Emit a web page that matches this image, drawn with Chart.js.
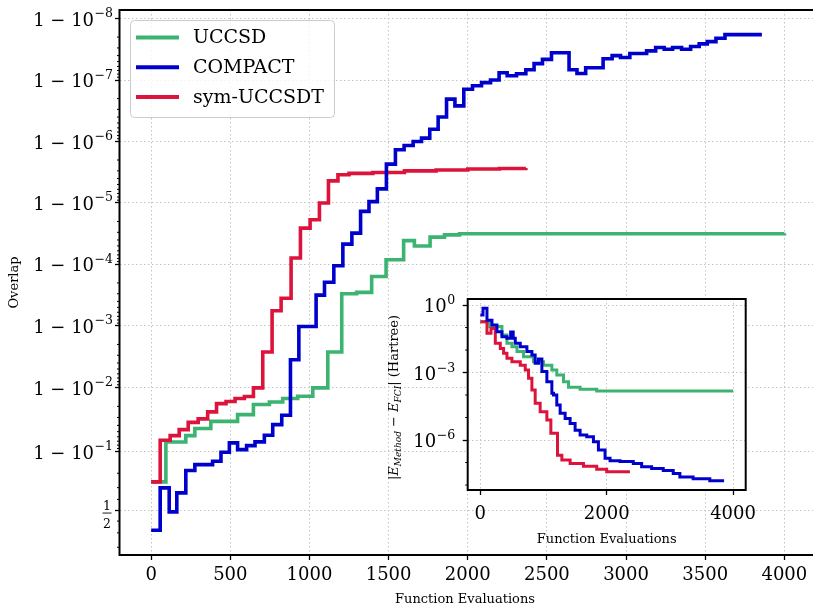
<!DOCTYPE html>
<html>
<head>
<meta charset="utf-8">
<script src="https://cdn.jsdelivr.net/npm/chart.js@4.4.1/dist/chart.umd.min.js"></script>
<style>
  * { margin: 0; padding: 0; box-sizing: border-box; }
  html, body { background: #fff; overflow: hidden; }
  #wrap { position: relative; width: 813px; height: 606px; overflow: hidden; }
  #main { position: absolute; left: 0; top: 0; }
  #inset { position: absolute; left: 380px; top: 285px; }
</style>
</head>
<body>
<div id="wrap">
  <canvas id="main" width="816" height="606" style="width:816px;height:606px"></canvas>
  <canvas id="inset" width="400" height="265" style="width:400px;height:265px"></canvas>
</div>
<script>
// ---- main panel: overlap with FCI state, stored as infidelity (1 - overlap)
const uccsdEvals = [0, 93, 219, 276, 377, 546, 646, 747, 831, 926, 1021, 1116, 1204, 1298, 1393, 1484, 1595, 1663, 1762, 1853, 1948, 4000];
const uccsdInfid = [0.257, 0.072, 0.0575, 0.0446, 0.0345, 0.027, 0.0187, 0.017, 0.015, 0.0138, 0.0101, 2.66e-3, 3.0e-4, 2.85e-4, 1.57e-4, 8.4e-5, 4.1e-5, 5.0e-5, 3.6e-5, 3.3e-5, 3.16e-5, 3.1e-5];

const compactEvals = [0, 57, 114, 162, 219, 276, 388, 441, 494, 546, 603, 656, 715, 768, 825, 880, 933, 1042, 1095, 1154,
  1211, 1268, 1323, 1376, 1429, 1486, 1543, 1598, 1655, 1708, 1760, 1813, 1866, 1919, 1975, 2030, 2087, 2144, 2198, 2249,
  2308, 2367, 2419, 2472, 2529, 2640, 2690, 2745, 2855, 2912, 2965, 3024, 3130, 3187, 3241, 3294, 3351, 3408, 3462, 3513,
  3568, 3625, 3858];
const compactInfid = [0.679, 0.302, 0.515, 0.343, 0.184, 0.153, 0.1376, 0.102, 0.0742, 0.0934, 0.0815, 0.0717, 0.0568, 0.0389, 0.0277, 3.55e-3, 1.02e-3, 3.16e-4, 1.95e-4, 1.05e-4,
  4.68e-5, 3.09e-5, 1.37e-5, 9.5e-6, 5.9e-6, 2.33e-6, 1.36e-6, 1.16e-6, 1.0e-6, 8.8e-7, 6.3e-7, 4.0e-7, 2.04e-7, 2.63e-7, 1.41e-7, 1.24e-7, 1.10e-7, 1.0e-7, 7.6e-8, 8.5e-8,
  7.9e-8, 6.8e-8, 5.4e-8, 4.6e-8, 3.6e-8, 6.8e-8, 7.8e-8, 6.3e-8, 4.5e-8, 4.0e-8, 4.3e-8, 3.7e-8, 3.35e-8, 2.95e-8, 3.16e-8, 2.95e-8, 3.16e-8, 2.85e-8, 2.58e-8, 2.37e-8,
  2.09e-8, 1.82e-8, 1.82e-8];

const symEvals = [0, 57, 120, 177, 234, 297, 357, 413, 473, 530, 589, 646, 705, 764, 821, 884, 943, 1004, 1063, 1120, 1180, 1250, 1400, 1600, 1800, 2000, 2200, 2367];
const symInfid = [0.257, 0.0678, 0.0575, 0.0465, 0.0358, 0.0316, 0.0245, 0.0181, 0.0167, 0.0150, 0.0139, 0.0101, 2.66e-3, 5.66e-4, 3.55e-4, 7.87e-5, 2.57e-5, 1.87e-5, 1.0e-5, 4.37e-6,
  3.47e-6, 3.3e-6, 3.2e-6, 3.0e-6, 2.9e-6, 2.8e-6, 2.75e-6, 2.7e-6];

// ---- inset: |E_method - E_FCI| in Hartree
const uccsdErrEvals = [0, 150, 342, 421, 500, 580, 684, 842, 1000, 1132, 1210, 1316, 1395, 1579, 1842, 4000];
const uccsdErr = [0.18, 0.11, 0.047, 0.020, 0.014, 8.5e-3, 5.0e-3, 3.0e-3, 2.1e-3, 1.3e-3, 7.8e-4, 3.9e-4, 2.2e-4, 1.8e-4, 1.5e-4, 1.5e-4];

const compactErrEvals = [0, 42, 105, 184, 263, 342, 421, 480, 520, 553, 632, 737, 816, 868, 920, 974, 1053, 1132, 1158, 1210,
  1263, 1342, 1421, 1500, 1579, 1684, 1790, 1869, 1974, 2053, 2211, 2421, 2553, 2711, 2895, 3053, 3158, 3368, 3632, 3858];
const compactErr = [0.36, 0.71, 0.21, 0.13, 0.065, 0.039, 0.033, 0.063, 0.033, 0.020, 0.014, 8.5e-3, 6.0e-3, 2.6e-3, 4.0e-3, 1.1e-3, 3.9e-4, 1.2e-4, 1.0e-4, 3.6e-5,
  1.55e-5, 9.1e-6, 5.5e-6, 2.75e-6, 1.66e-6, 1.4e-6, 8.5e-7, 3.6e-7, 1.55e-7, 1.2e-7, 1.1e-7, 9.1e-8, 6.5e-8, 5.5e-8, 4.4e-8, 3.3e-8, 2.3e-8, 1.9e-8, 1.55e-8, 1.55e-8];

const symErrEvals = [0, 105, 169, 237, 316, 368, 421, 500, 632, 711, 763, 816, 868, 947, 1053, 1116, 1221, 1290, 1421, 1632, 1842, 2000, 2368];
const symErr = [0.18, 0.055, 0.091, 0.020, 0.0117, 7.1e-3, 4.3e-3, 3.0e-3, 2.1e-3, 1.3e-3, 5.5e-4, 1.66e-4, 4.3e-5, 1.8e-5, 7.8e-6, 2.0e-6, 2.1e-7, 1.3e-7, 9.1e-8, 6.9e-8, 5.0e-8, 3.9e-8, 3.9e-8];

// ---- ticks
const xTicksMain = [0, 500, 1000, 1500, 2000, 2500, 3000, 3500, 4000];
const xTicksInset = [0, 2000, 4000];
const yMajorExp = [1, 2, 3, 4, 5, 6, 7, 8];          // 1 - 10^-k
const yInsetExp = [0, -3, -6];
const yInsetMinorExp = [-1, -2, -4, -5, -7, -8];

const labels = ['UCCSD', 'COMPACT', 'sym-UCCSDT'];
const colors = ['#3cb371', '#0000cd', '#dc143c'];

const SERIF = '"DejaVu Serif", serif';
const GRID = '#c4c4c4';

// matplotlib-like logit scale: log10(p / (1 - p)) with p = 1 - infidelity
const logit = q => Math.log10((1 - q) / q);
const pts = (xs, ys, f) => xs.map((x, i) => ({ x, y: f ? f(ys[i]) : ys[i] }));

function line(label, color, data, width, order) {
  return { label, data, borderColor: color, backgroundColor: color, borderWidth: width,
    pointRadius: 0, stepped: 'before', tension: 0, fill: false, order };
}

function fixedTicks(values) {
  return scale => { scale.ticks = values.map(v => ({ value: v })); };
}

function drawPow(ctx, right, y, base, exp, big, small, raise) {
  ctx.textAlign = 'left';
  ctx.textBaseline = 'alphabetic';
  ctx.font = small + 'px ' + SERIF;
  const ew = ctx.measureText(exp).width;
  ctx.fillText(exp, right - ew, y - raise);
  ctx.font = big + 'px ' + SERIF;
  const bw = ctx.measureText(base).width;
  ctx.fillText(base, right - ew - bw - 0.5, y);
}

// ---- main chart
const mainDecor = {
  id: 'mainDecor',
  afterDraw(chart) {
    const { ctx, chartArea: a } = chart;
    const ys = chart.scales.y;
    ctx.save();
    ctx.fillStyle = '#000';
    ctx.strokeStyle = '#000';

    // minor ticks on the logit axis
    ctx.lineWidth = 1;
    const minor = [0.6, 0.7, 0.8, 0.4, 0.3, 0.2];
    for (let k = 2; k <= 8; k++) for (let m = 2; m <= 9; m++) minor.push(m * Math.pow(10, -k));
    ctx.beginPath();
    minor.forEach(q => {
      const py = ys.getPixelForValue(logit(q));
      if (py < a.top || py > a.bottom) return;
      ctx.moveTo(a.left, py); ctx.lineTo(a.left - 2.5, py);
    });
    ctx.stroke();

    // y labels
    yMajorExp.forEach(k => {
      const py = ys.getPixelForValue(logit(Math.pow(10, -k)));
      drawPow(ctx, 113, py + 7, '1 \u2212 10', '\u2212' + k, 18, 12.5, 8.5);
    });
    const ph = ys.getPixelForValue(0);
    ctx.font = '12.5px ' + SERIF;
    ctx.textAlign = 'center';
    ctx.textBaseline = 'alphabetic';
    ctx.fillText('1', 107, ph - 0.5);
    ctx.fillText('2', 107, ph + 18);
    ctx.lineWidth = 0.9;
    ctx.beginPath(); ctx.moveTo(102.5, ph + 2.8); ctx.lineTo(111.5, ph + 2.8); ctx.stroke();

    // frame
    ctx.lineWidth = 2;
    ctx.strokeRect(a.left, a.top, a.right - a.left, a.bottom - a.top);

    // axis titles
    ctx.font = '13px ' + SERIF;
    ctx.textAlign = 'center';
    ctx.fillText('Function Evaluations', 465, 602.5);
    ctx.save();
    ctx.translate(18, (a.top + a.bottom) / 2);
    ctx.rotate(-Math.PI / 2);
    ctx.textBaseline = 'alphabetic';
    ctx.fillText('Overlap', 0, 0);
    ctx.restore();

    // legend
    const lx = 130, ly = 20, lw = 204, lh = 97;
    ctx.fillStyle = 'rgba(255,255,255,0.8)';
    ctx.strokeStyle = '#cccccc';
    ctx.lineWidth = 1;
    ctx.beginPath();
    ctx.roundRect(lx + 0.5, ly + 0.5, lw, lh, 4);
    ctx.fill(); ctx.stroke();
    ctx.font = '19px ' + SERIF;
    ctx.textAlign = 'left';
    ctx.textBaseline = 'middle';
    labels.forEach((lab, i) => {
      const yy = 37.5 + i * 29.7;
      ctx.strokeStyle = colors[i];
      ctx.lineWidth = 4;
      ctx.beginPath(); ctx.moveTo(136, yy); ctx.lineTo(179, yy); ctx.stroke();
      ctx.fillStyle = '#000';
      ctx.fillText(lab, 193, yy + 1);
    });
    ctx.restore();
  }
};

const gridOpts = { color: GRID, lineWidth: 1, drawTicks: true, tickLength: 5, tickColor: '#000', tickWidth: 1.3 };
const plainNum = v => String(v);

new Chart(document.getElementById('main'), {
  type: 'line',
  data: {
    datasets: [
      line(labels[0], colors[0], pts(uccsdEvals, uccsdInfid, logit), 3.6, 2),
      line(labels[1], colors[1], pts(compactEvals, compactInfid, logit), 3.6, 0),
      line(labels[2], colors[2], pts(symEvals, symInfid, logit), 3.6, 1)
    ]
  },
  options: {
    responsive: false,
    devicePixelRatio: 1,
    animation: false,
    layout: { padding: { top: 10, right: 0, left: 0, bottom: 0 } },
    plugins: { legend: { display: false }, tooltip: { enabled: false } },
    scales: {
      x: {
        type: 'linear', min: -200, max: 4200,
        afterBuildTicks: fixedTicks(xTicksMain),
        afterFit: s => { s.height = 51; },
        grid: gridOpts,
        border: { display: false, dash: [1.5, 2.5] },
        ticks: { autoSkip: false, maxRotation: 0, padding: 5, color: '#000', callback: plainNum,
                 font: { family: 'DejaVu Serif', size: 18 } }
      },
      y: {
        type: 'linear', min: -0.728, max: 8.14,
        afterBuildTicks: fixedTicks([0].concat(yMajorExp.map(k => logit(Math.pow(10, -k))))),
        afterFit: s => { s.width = 119.5; },
        grid: Object.assign({}, gridOpts, { tickLength: 4.5 }),
        border: { display: false, dash: [1.5, 2.5] },
        ticks: { display: false }
      }
    }
  },
  plugins: [mainDecor]
});

// ---- inset chart
const insetDecor = {
  id: 'insetDecor',
  beforeDraw(chart) {
    const { ctx, chartArea: a } = chart;
    ctx.save();
    ctx.fillStyle = '#fff';
    ctx.fillRect(a.left, a.top, a.right - a.left, a.bottom - a.top);
    ctx.restore();
  },
  afterDraw(chart) {
    const { ctx, chartArea: a } = chart;
    const ys = chart.scales.y;
    ctx.save();
    ctx.fillStyle = '#000';
    ctx.strokeStyle = '#000';
    ctx.lineWidth = 1;
    ctx.beginPath();
    yInsetMinorExp.forEach(e => {
      const py = ys.getPixelForValue(Math.pow(10, e));
      ctx.moveTo(a.left, py); ctx.lineTo(a.left - 2.5, py);
    });
    ctx.stroke();

    yInsetExp.forEach(e => {
      const py = ys.getPixelForValue(Math.pow(10, e));
      drawPow(ctx, a.left - 12.5, py + 7, '10', e === 0 ? '0' : '\u2212' + (-e), 18, 12.5, 8);
    });

    ctx.lineWidth = 2;
    ctx.strokeRect(a.left, a.top, a.right - a.left, a.bottom - a.top);

    ctx.font = '13px ' + SERIF;
    ctx.textAlign = 'center';
    ctx.textBaseline = 'alphabetic';
    ctx.fillText('Function Evaluations', (a.left + a.right) / 2, 258);

    // |E_Method - E_FCI| (Hartree), rotated
    const parts = [
      { t: '|', f: '13px ' + SERIF, dy: 0 },
      { t: 'E', f: 'italic 13px ' + SERIF, dy: 0 },
      { t: 'Method', f: 'italic 9px ' + SERIF, dy: 2.5 },
      { t: ' \u2212 ', f: '13px ' + SERIF, dy: 0 },
      { t: 'E', f: 'italic 13px ' + SERIF, dy: 0 },
      { t: 'FCI', f: 'italic 9px ' + SERIF, dy: 2.5 },
      { t: '| (Hartree)', f: '13px ' + SERIF, dy: 0 }
    ];
    let total = 0;
    parts.forEach(p => { ctx.font = p.f; p.w = ctx.measureText(p.t).width; total += p.w; });
    ctx.translate(18, (a.top + a.bottom) / 2 + 3);
    ctx.rotate(-Math.PI / 2);
    ctx.textAlign = 'left';
    let cx = -total / 2;
    parts.forEach(p => { ctx.font = p.f; ctx.fillText(p.t, cx, p.dy); cx += p.w; });
    ctx.restore();
  }
};

new Chart(document.getElementById('inset'), {
  type: 'line',
  data: {
    datasets: [
      line(labels[0], colors[0], pts(uccsdErrEvals, uccsdErr), 3, 2),
      line(labels[1], colors[1], pts(compactErrEvals, compactErr), 3, 0),
      line(labels[2], colors[2], pts(symErrEvals, symErr), 3, 1)
    ]
  },
  options: {
    responsive: false,
    devicePixelRatio: 1,
    animation: false,
    layout: { padding: { top: 14, right: 34.3, left: 0, bottom: 0 } },
    plugins: { legend: { display: false }, tooltip: { enabled: false } },
    scales: {
      x: {
        type: 'linear', min: -200, max: 4200,
        afterBuildTicks: fixedTicks(xTicksInset),
        afterFit: s => { s.height = 60; },
        grid: gridOpts,
        border: { display: false, dash: [1.5, 2.5] },
        ticks: { autoSkip: false, maxRotation: 0, padding: 9, color: '#000', callback: plainNum,
                 font: { family: 'DejaVu Serif', size: 18 } }
      },
      y: {
        type: 'logarithmic', min: Math.pow(10, -8.22), max: Math.pow(10, 0.267),
        afterBuildTicks: fixedTicks(yInsetExp.map(e => Math.pow(10, e))),
        afterFit: s => { s.width = 87.7; },
        grid: gridOpts,
        border: { display: false, dash: [1.5, 2.5] },
        ticks: { display: false }
      }
    }
  },
  plugins: [insetDecor]
});
</script>
</body>
</html>
